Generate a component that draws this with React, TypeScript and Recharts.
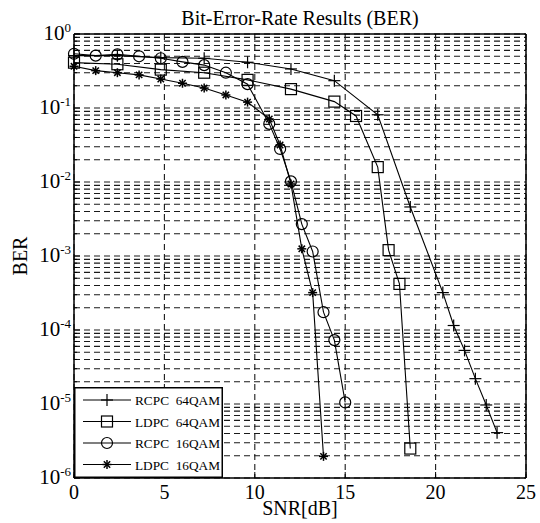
import React from "react";
import {
  LineChart,
  Line,
  XAxis,
  YAxis,
  CartesianGrid,
  Legend,
} from "recharts";

// SNR [dB] / BER
const rcpc64Snr = [0, 2.4, 4.8, 7.2, 9.6, 12, 14.4, 16.8, 18.6, 20.4, 21.0, 21.6, 22.2, 22.8, 23.4];
const rcpc64Ber = [0.51, 0.51, 0.48, 0.47, 0.415, 0.337, 0.234, 0.081, 0.0046, 3.2e-4, 1.15e-4, 5.3e-5, 2.2e-5, 9.7e-6, 4.1e-6];

const ldpc64Snr = [0, 2.4, 4.8, 7.2, 9.6, 12, 14.4, 15.6, 16.8, 17.4, 18.0, 18.6];
const ldpc64Ber = [0.41, 0.39, 0.33, 0.3, 0.24, 0.18, 0.122, 0.078, 0.0159, 1.2e-3, 4.2e-4, 2.5e-6];

const rcpc16Snr = [0, 1.2, 2.4, 3.6, 4.8, 6.0, 7.2, 8.4, 9.6, 10.8, 11.4, 12.0, 12.6, 13.2, 13.8, 14.4, 15.0];
const rcpc16Ber = [0.54, 0.51, 0.53, 0.5, 0.47, 0.42, 0.38, 0.3, 0.21, 0.061, 0.028, 0.0102, 2.7e-3, 1.15e-3, 1.74e-4, 7.3e-5, 1.05e-5];

const ldpc16Snr = [0, 1.2, 2.4, 3.6, 4.8, 6.0, 7.2, 8.4, 9.6, 10.8, 11.4, 12.0, 12.6, 13.2, 13.8];
const ldpc16Ber = [0.366, 0.32, 0.3, 0.28, 0.246, 0.216, 0.186, 0.15, 0.12, 0.071, 0.0316, 9.4e-3, 1.25e-3, 3.2e-4, 1.96e-6];

const xTicks = [0, 5, 10, 15, 20, 25];
const decades = [-6, -5, -4, -3, -2, -1];
const yTicks = [...decades.flatMap((e) => [1, 2, 3, 4, 5, 6, 7, 8, 9].map((m) => m * Math.pow(10, e))), 1];

type MarkerKind = "plus" | "square" | "circle" | "star";

const series: { name: string; marker: MarkerKind; snr: number[]; ber: number[] }[] = [
  { name: "RCPC  64QAM", marker: "plus", snr: rcpc64Snr, ber: rcpc64Ber },
  { name: "LDPC  64QAM", marker: "square", snr: ldpc64Snr, ber: ldpc64Ber },
  { name: "RCPC  16QAM", marker: "circle", snr: rcpc16Snr, ber: rcpc16Ber },
  { name: "LDPC  16QAM", marker: "star", snr: ldpc16Snr, ber: ldpc16Ber },
];

const FONT = '"Liberation Serif", "Times New Roman", serif';

function Marker({ kind, cx, cy }: { kind: MarkerKind; cx: number; cy: number }) {
  const s = { stroke: "#000", strokeWidth: 1.2, fill: "none" };
  if (kind === "plus") {
    return (
      <g {...s}>
        <line x1={cx - 6} x2={cx + 6} y1={cy} y2={cy} />
        <line x1={cx} x2={cx} y1={cy - 6} y2={cy + 6} />
      </g>
    );
  }
  if (kind === "square") return <rect x={cx - 5.5} y={cy - 5.5} width={11} height={11} {...s} />;
  if (kind === "circle") return <circle cx={cx} cy={cy} r={5.5} {...s} />;
  const r = 4.5;
  const d = r * 0.7071;
  return (
    <g stroke="#000" strokeWidth={1.5}>
      <line x1={cx - r} x2={cx + r} y1={cy} y2={cy} />
      <line x1={cx} x2={cx} y1={cy - r} y2={cy + r} />
      <line x1={cx - d} x2={cx + d} y1={cy - d} y2={cy + d} />
      <line x1={cx - d} x2={cx + d} y1={cy + d} y2={cy - d} />
    </g>
  );
}

function isDecade(v: number) {
  const l = Math.log10(v);
  return Math.abs(l - Math.round(l)) < 1e-6;
}

function LeftTick({ x, y, payload }: any) {
  const major = isDecade(payload.value);
  const e = Math.round(Math.log10(payload.value));
  return (
    <g>
      <line x1={x} x2={x + (major ? 6 : 3)} y1={y} y2={y} stroke="#000" />
      {major && (
        <text x={x - 3} y={y + 6} textAnchor="end" fontFamily={FONT} fontSize={21} fill="#000">
          10
          <tspan dy={-8} fontSize={13}>
            {e}
          </tspan>
        </text>
      )}
    </g>
  );
}

function RightTick({ x, y, payload }: any) {
  const major = isDecade(payload.value);
  return <line x1={x} x2={x - (major ? 6 : 3)} y1={y} y2={y} stroke="#000" />;
}

function BottomTick({ x, y, payload }: any) {
  return (
    <g>
      <line x1={x} x2={x} y1={y} y2={y - 6} stroke="#000" />
      <text x={x} y={y + 21} textAnchor="middle" fontFamily={FONT} fontSize={20} fill="#000">
        {payload.value}
      </text>
    </g>
  );
}

function TopTick({ x, y }: any) {
  return <line x1={x} x2={x} y1={y} y2={y + 6} stroke="#000" />;
}

function LegendBox() {
  return (
    <svg width={149} height={91} style={{ display: "block", overflow: "visible" }}>
      <rect x={0.75} y={0.75} width={147.5} height={89.5} fill="#fff" stroke="#000" strokeWidth={1.5} />
      {series.map((s, i) => {
        const cy = 13 + i * 21.5;
        return (
          <g key={s.name}>
            <line x1={9} x2={57} y1={cy} y2={cy} stroke="#000" strokeWidth={1.2} />
            <Marker kind={s.marker} cx={33} cy={cy} />
            <text x={61} y={cy + 5} fontFamily={FONT} fontSize={13.3} fill="#000" style={{ whiteSpace: "pre" }}>
              {s.name}
            </text>
          </g>
        );
      })}
    </svg>
  );
}

export default function App() {
  return (
    <div style={{ position: "relative", width: 540, height: 523, background: "#fff" }}>
      <style>{"body{margin:0}"}</style>
      <div
        style={{
          position: "absolute",
          left: 74,
          top: 6,
          width: 452,
          textAlign: "center",
          fontFamily: FONT,
          fontSize: 20,
          lineHeight: "24px",
          zIndex: 1,
        }}
      >
        Bit-Error-Rate Results (BER)
      </div>
      <LineChart width={540} height={523} margin={{ top: 0, right: 0, bottom: 0, left: 0 }}>
        <CartesianGrid xAxisId="b" yAxisId="l" stroke="#1a1a1a" strokeWidth={1.1} strokeDasharray="6 4" />
        <XAxis
          xAxisId="b"
          dataKey="snr"
          type="number"
          domain={[0, 25]}
          ticks={xTicks}
          height={45}
          tickSize={0}
          tickMargin={0}
          tickLine={false}
          axisLine={{ stroke: "#000", strokeWidth: 1.5 }}
          tick={<BottomTick />}
          label={{ value: "SNR[dB]", position: "insideBottom", offset: 8, style: { fontFamily: FONT, fontSize: 20, fill: "#000" } }}
        />
        <XAxis
          xAxisId="t"
          orientation="top"
          dataKey="snr"
          type="number"
          domain={[0, 25]}
          ticks={xTicks}
          height={34}
          tickSize={0}
          tickMargin={0}
          tickLine={false}
          axisLine={{ stroke: "#000", strokeWidth: 1.5 }}
          tick={<TopTick />}
        />
        <YAxis
          yAxisId="l"
          scale="log"
          type="number"
          domain={[1e-6, 1]}
          ticks={yTicks}
          interval={0}
          width={74}
          tickSize={0}
          tickMargin={0}
          tickLine={false}
          axisLine={{ stroke: "#000", strokeWidth: 1.5 }}
          tick={<LeftTick />}
          label={{
            value: "BER",
            angle: -90,
            position: "insideLeft",
            offset: 20,
            style: { fontFamily: FONT, fontSize: 20, fill: "#000", textAnchor: "middle" },
          }}
        />
        <YAxis
          yAxisId="r"
          orientation="right"
          scale="log"
          type="number"
          domain={[1e-6, 1]}
          ticks={yTicks}
          interval={0}
          width={14}
          tickSize={0}
          tickMargin={0}
          tickLine={false}
          axisLine={{ stroke: "#000", strokeWidth: 1.5 }}
          tick={<RightTick />}
        />
        <Legend
          layout="vertical"
          align="center"
          verticalAlign="middle"
          content={() => <LegendBox />}
          wrapperStyle={{ left: 74, top: 387, width: 149, height: 91 }}
        />
        {series.map((s) => (
          <Line
            key={s.name}
            xAxisId="b"
            yAxisId="l"
            data={s.snr.map((snr, i) => ({ snr, ber: s.ber[i] }))}
            dataKey="ber"
            name={s.name}
            type="linear"
            stroke="#000"
            strokeWidth={1.1}
            isAnimationActive={false}
            dot={(p: any) => <Marker key={`${s.marker}-${p.index}`} kind={s.marker} cx={p.cx} cy={p.cy} />}
            activeDot={false}
          />
        ))}
      </LineChart>
    </div>
  );
}
